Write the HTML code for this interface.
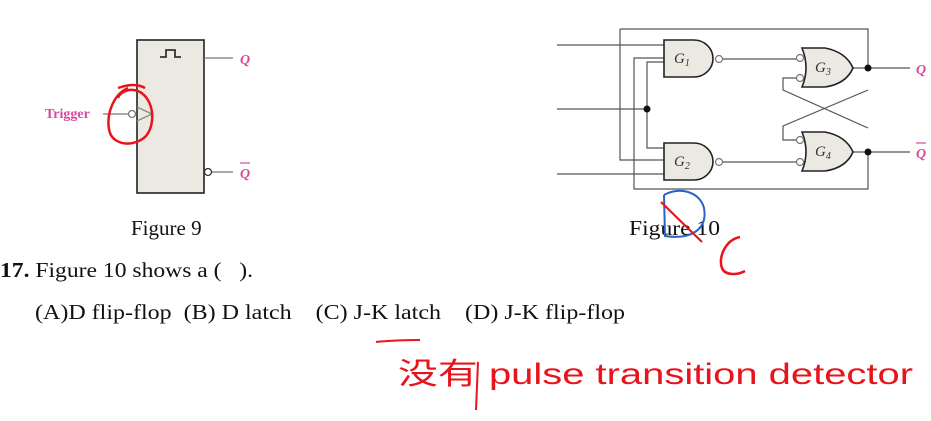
<!DOCTYPE html>
<html><head><meta charset="utf-8"><style>
html,body{margin:0;padding:0;background:#fff;width:931px;height:421px;overflow:hidden}
svg{display:block}
.t{font-family:"Liberation Serif","Noto Serif CJK SC",serif;font-size:21px;fill:#111;white-space:pre}
.p{font-family:"Liberation Serif",serif;font-style:italic;font-weight:bold;fill:#d9479a}
.g{font-family:"Liberation Serif",serif;font-style:italic;font-size:15px;fill:#333}
.h{font-family:"Liberation Sans","Noto Sans CJK SC",sans-serif;fill:#e8141c}
</style></head><body>
<svg width="931" height="421" viewBox="0 0 931 421" xmlns="http://www.w3.org/2000/svg" xml:space="preserve">
<g stroke="#333" fill="none" stroke-width="1.3">
<rect x="137" y="40" width="67" height="153" fill="#ece8e2" stroke="#222" stroke-width="1.6"/>
<polyline points="160,57 166,57 166,50 175,50 175,57 181,57" stroke-width="1.8"/>
<line x1="204" y1="58" x2="233" y2="58" stroke="#777"/>
<circle cx="208" cy="172" r="3.5" fill="#fff"/>
<line x1="212" y1="172" x2="233" y2="172" stroke="#777"/>
<line x1="103" y1="114" x2="128" y2="114" stroke="#777"/>
<circle cx="132" cy="114" r="3.5" fill="#fff" stroke="#777"/>
<polyline points="137,107 152,114 137,121" stroke="#888"/>
</g>
<text class="p" x="240" y="64" font-size="14">Q</text>
<text class="p" x="240" y="178" font-size="14">Q</text>
<line x1="240" y1="163" x2="250" y2="163" stroke="#d9479a" stroke-width="1.2"/>
<text class="p" x="45" y="118" font-size="14" style="font-style:normal">Trigger</text>
<path d="M118,88 Q135,82 145,88 M128,88 C112,95 105,118 110,133 C115,146 135,147 146,136 C156,124 154,100 140,92 C130,87 120,92 118,98" stroke="#e8141c" stroke-width="2.5" fill="none"/>
<text class="t" x="131" y="235">Figure 9</text>

<g stroke="#555" fill="none" stroke-width="1.2">
<polyline points="620,29 868,29 868,68"/>
<polyline points="620,29 620,160 664,160"/>
<polyline points="664,58 634,58 634,189 868,189 868,152"/>
<line x1="557" y1="45" x2="664" y2="45"/>
<line x1="557" y1="109" x2="647" y2="109"/>
<polyline points="664,62 647,62 647,148 664,148"/>
<line x1="557" y1="174" x2="664" y2="174"/>
<line x1="723" y1="59" x2="797" y2="59"/>
<line x1="723" y1="162" x2="797" y2="162"/>
<polyline points="797,78 783,78 783,90 868,128"/>
<polyline points="797,140 783,140 783,126 868,90"/>
<line x1="853" y1="68" x2="910" y2="68"/>
<line x1="853" y1="152" x2="910" y2="152"/>
</g>
<g fill="#ece8e2" stroke="#222" stroke-width="1.6">
<path d="M664,40 H694 A19,18.5 0 0 1 694,77 H664 Z"/>
<path d="M664,143 H694 A19,18.5 0 0 1 694,180 H664 Z"/>
<path d="M802,48 H825 Q846,52 853,68 Q846,84 825,87 H802 Q810,68 802,48 Z"/>
<path d="M802,132 H825 Q846,136 853,152 Q846,168 825,171 H802 Q810,152 802,132 Z"/>
</g>
<g fill="#fff" stroke="#777" stroke-width="1.2">
<circle cx="719" cy="59" r="3.5"/><circle cx="719" cy="162" r="3.5"/>
<circle cx="800" cy="58" r="3.5"/><circle cx="800" cy="78" r="3.5"/>
<circle cx="800" cy="140" r="3.5"/><circle cx="800" cy="162" r="3.5"/>
</g>
<g fill="#111"><circle cx="647" cy="109" r="3.5"/><circle cx="868" cy="68" r="3.5"/><circle cx="868" cy="152" r="3.5"/></g>
<text class="g" x="674" y="63">G<tspan font-size="10" dy="3">1</tspan></text>
<text class="g" x="674" y="166">G<tspan font-size="10" dy="3">2</tspan></text>
<text class="g" x="815" y="72">G<tspan font-size="10" dy="3">3</tspan></text>
<text class="g" x="815" y="156">G<tspan font-size="10" dy="3">4</tspan></text>
<text class="p" x="916" y="74" font-size="14">Q</text>
<text class="p" x="916" y="158" font-size="14">Q</text>
<line x1="916" y1="143" x2="926" y2="143" stroke="#d9479a" stroke-width="1.2"/>
<text class="t" x="629" y="235" textLength="91" lengthAdjust="spacingAndGlyphs">Figure 10</text>
<path d="M664,195 C680,186 700,192 704,208 C708,230 690,240 665,236 L664,195" stroke="#2a62c8" stroke-width="2" fill="none"/>
<path d="M661,202 L702,242" stroke="#e8141c" stroke-width="2.2" fill="none"/>
<path d="M740,237 C725,240 718,258 722,268 C725,276 738,275 745,271" stroke="#e8141c" stroke-width="2.5" fill="none"/>

<text class="t" x="0" y="277" textLength="253" lengthAdjust="spacingAndGlyphs"><tspan font-weight="bold">17.</tspan> Figure 10 shows a (   ).</text>
<text class="t" x="35" y="319" textLength="590" lengthAdjust="spacingAndGlyphs">(A)D flip-flop  (B) D latch    (C) J-K latch    (D) J-K flip-flop</text>
<path d="M376,342 Q395,340 420,340" stroke="#e8141c" stroke-width="2" fill="none"/>
<text class="h" x="398" y="384" font-size="30" textLength="515" lengthAdjust="spacingAndGlyphs">没有 pulse transition detector</text>
<line x1="478" y1="362" x2="476" y2="410" stroke="#e8141c" stroke-width="2"/>
</svg>
</body></html>
